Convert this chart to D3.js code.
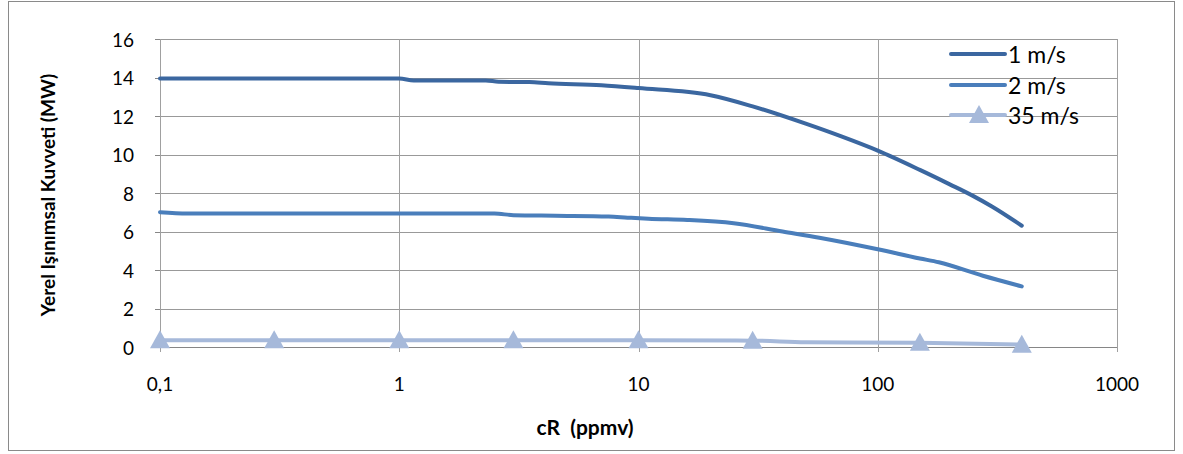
<!DOCTYPE html>
<html>
<head>
<meta charset="utf-8">
<script src="https://cdn.jsdelivr.net/npm/d3@7"></script>
<style>
  html, body { margin: 0; padding: 0; background: #fff; }
  svg text { font-family: Lato, "Open Sans", "Liberation Sans", sans-serif; fill: #000; }
</style>
</head>
<body>
<svg id="chart" width="1183" height="454"></svg>
<script>
// Concentration (ppmv) and local radiative power (MW) for each wind speed
const speed1x = [0.1, 1, 1.15, 2.3, 2.6, 3.5, 4.2, 7, 10, 20, 30, 50, 70, 100, 150, 200, 250, 300, 400];
const speed1y = [13.95, 13.95, 13.85, 13.85, 13.78, 13.76, 13.7, 13.6, 13.45, 13.08, 12.5, 11.6, 10.95, 10.2, 9.2, 8.45, 7.85, 7.3, 6.3];

const speed2x = [0.1, 0.13, 2.5, 3, 4.5, 7.5, 9, 11, 16, 25, 40, 57, 100, 150, 180, 275, 400];
const speed2y = [7.0, 6.93, 6.93, 6.85, 6.82, 6.78, 6.72, 6.66, 6.6, 6.43, 6.0, 5.68, 5.08, 4.6, 4.4, 3.7, 3.15];

const speed35x = [0.1, 0.3, 1, 3, 10, 30, 50, 150, 400];
const speed35y = [0.35, 0.35, 0.35, 0.35, 0.35, 0.33, 0.25, 0.22, 0.12];
const speed35marked = [0.1, 0.3, 1, 3, 10, 30, 150, 400];

const seriesNames = ["1 m/s", "2 m/s", "35 m/s"];
const xTicks = [0.1, 1, 10, 100, 1000];
const xTickLabels = ["0,1", "1", "10", "100", "1000"];
const yTicks = [0, 2, 4, 6, 8, 10, 12, 14, 16];

const colors = ["#3b67a0", "#4a7ebb", "#a6b9da"];

const svg = d3.select("#chart");

// Outer chart frame
svg.append("rect")
  .attr("x", 8.5).attr("y", 1.5).attr("width", 1166).attr("height", 449)
  .attr("fill", "#fff").attr("stroke", "#8a8a8a").attr("stroke-width", 1);

const x = d3.scaleLog().domain([0.1, 1000]).range([160, 1117]);
const y = d3.scaleLinear().domain([0, 16]).range([347, 39]);

const gridColor = "#999";

// Horizontal grid lines
svg.append("g").selectAll("line").data(yTicks).join("line")
  .attr("x1", x(0.1)).attr("x2", x(1000))
  .attr("y1", d => Math.round(y(d)) + 0.5).attr("y2", d => Math.round(y(d)) + 0.5)
  .attr("stroke", d => d === 0 ? "#868686" : gridColor).attr("stroke-width", 1);

// Vertical grid lines at each decade
svg.append("g").selectAll("line").data(xTicks).join("line")
  .attr("x1", d => Math.round(x(d)) + 0.5).attr("x2", d => Math.round(x(d)) + 0.5)
  .attr("y1", y(16)).attr("y2", y(0) + 5)
  .attr("stroke", "#a0a0a0").attr("stroke-width", 1);

// Y tick marks
svg.append("g").selectAll("line").data(yTicks).join("line")
  .attr("x1", x(0.1) - 5).attr("x2", x(0.1))
  .attr("y1", d => Math.round(y(d)) + 0.5).attr("y2", d => Math.round(y(d)) + 0.5)
  .attr("stroke", "#868686");

// Y tick labels
svg.append("g").selectAll("text").data(yTicks).join("text")
  .attr("x", 134).attr("y", d => y(d))
  .attr("text-anchor", "end").attr("dominant-baseline", "central")
  .attr("font-size", 19)
  .text(d => d);

// X tick labels
svg.append("g").selectAll("text").data(xTicks).join("text")
  .attr("x", d => x(d)).attr("y", 383)
  .attr("text-anchor", "middle").attr("dominant-baseline", "central")
  .attr("font-size", 19)
  .text((d, i) => xTickLabels[i]);

// Axis titles
svg.append("text")
  .attr("transform", "translate(47,195) rotate(-90)")
  .attr("text-anchor", "middle").attr("dominant-baseline", "central")
  .attr("font-size", 19).attr("font-weight", "bold")
  .text("Yerel Işınımsal Kuvveti (MW)");

svg.append("text")
  .attr("x", 585).attr("y", 426)
  .attr("text-anchor", "middle").attr("dominant-baseline", "central")
  .attr("font-size", 21).attr("font-weight", "bold")
  .attr("xml:space", "preserve")
  .text("cR  (ppmv)");

const line = d3.line()
  .x(d => x(d[0])).y(d => y(d[1]))
  .curve(d3.curveMonotoneX);

const series = [
  d3.zip(speed1x, speed1y),
  d3.zip(speed2x, speed2y),
  d3.zip(speed35x, speed35y)
];

// Draw the lightest series first so the darker curves sit on top
[2, 1, 0].forEach(i => {
  svg.append("path")
    .datum(series[i])
    .attr("d", line)
    .attr("fill", "none")
    .attr("stroke", colors[i])
    .attr("stroke-width", 4)
    .attr("stroke-linejoin", "round")
    .attr("stroke-linecap", "round");
});

const triangle = "M0,-10 L10,8 L-10,8 Z";

// Triangle markers on the 35 m/s series
svg.append("g").selectAll("path")
  .data(series[2].filter(d => speed35marked.includes(d[0])))
  .join("path")
  .attr("transform", d => `translate(${x(d[0])},${y(d[1])})`)
  .attr("d", triangle)
  .attr("fill", colors[2]);

// Legend
const legend = svg.append("g");
const legendY = [54, 85, 115];
seriesNames.forEach((name, i) => {
  legend.append("line")
    .attr("x1", 951).attr("x2", 1005)
    .attr("y1", legendY[i]).attr("y2", legendY[i])
    .attr("stroke", colors[i]).attr("stroke-width", 4)
    .attr("stroke-linecap", "round");
  if (i === 2) {
    legend.append("path")
      .attr("transform", `translate(979,${legendY[i]})`)
      .attr("d", triangle)
      .attr("fill", colors[i]);
  }
  legend.append("text")
    .attr("x", 1008).attr("y", legendY[i])
    .attr("dominant-baseline", "central")
    .attr("font-size", 23)
    .text(name);
});
</script>
</body>
</html>
